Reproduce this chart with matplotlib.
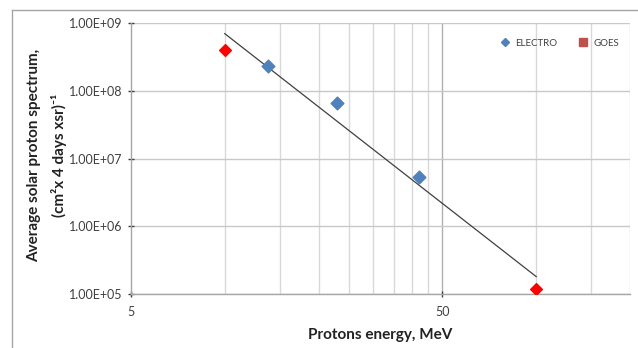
import numpy as np
import matplotlib
matplotlib.use("Agg")
import matplotlib.pyplot as plt
from matplotlib.lines import Line2D
from matplotlib.ticker import FixedLocator, NullFormatter

plt.rcParams['font.family'] = ['Lato', 'DejaVu Sans']

# Data
electro_energy = [13.8, 23.0, 42.0]
electro_flux = [2.3e8, 6.7e7, 5.3e6]
goes_energy = [10.0, 100.0]
goes_flux = [4.0e8, 1.2e5]
x_tick_values = [5, 50]
x_tick_labels = ["5", "50"]
y_tick_values = [1e5, 1e6, 1e7, 1e8, 1e9]
y_tick_labels = ["1.00E+05", "1.00E+06", "1.00E+07", "1.00E+08", "1.00E+09"]
x_minor_grid = [10, 15, 20, 25, 30, 35, 40, 45, 100, 150]
series_names = ["ELECTRO", "GOES"]

fig = plt.figure(figsize=(6.38, 3.48), dpi=100)
ax = fig.add_axes([131/638, 1-294/348, (630-131)/638, (294-23)/348])

ax.set_xscale('log')
ax.set_yscale('log')
ax.set_xlim(5, 200)
ax.set_ylim(1e5, 1e9)

# gridlines
for v in x_minor_grid:
    ax.axvline(v, color='#D9D9D9', lw=1.0, zorder=0)
ax.axvline(200, color='#D9D9D9', lw=1.0, zorder=0)
ax.axvline(50, color='#B0B0B0', lw=1.0, zorder=0)
for v in y_tick_values:
    ax.axhline(v, color='#C8C8C8', lw=1.0, zorder=0)

# power-law trendline fit on all points
all_x = np.array(goes_energy[:1] + electro_energy + goes_energy[1:])
all_y = np.array(goes_flux[:1] + electro_flux + goes_flux[1:])
coef = np.polyfit(np.log10(all_x), np.log10(all_y), 1)
tx = np.array([min(all_x), max(all_x)])
ty = 10 ** np.polyval(coef, np.log10(tx))
ax.plot(tx, ty, color='#404040', lw=0.9, zorder=2)

ax.scatter(electro_energy, electro_flux, marker='D', s=42, color='#4F81BD', zorder=3)
ax.scatter(goes_energy, goes_flux, marker='D', s=36, color='#FF0000', zorder=3)

ax.xaxis.set_major_locator(FixedLocator(x_tick_values))
ax.set_xticklabels(x_tick_labels)
ax.xaxis.set_minor_formatter(NullFormatter())
ax.xaxis.set_minor_locator(FixedLocator([]))
ax.yaxis.set_major_locator(FixedLocator(y_tick_values))
ax.set_yticklabels(y_tick_labels)
ax.yaxis.set_minor_locator(FixedLocator([]))

ax.tick_params(axis='both', which='major', labelsize=9, colors='#404040',
               length=5, width=1, direction='inout')
ax.tick_params(axis='x', pad=6)
ax.tick_params(axis='y', pad=4)
for t in ax.get_xticklines() + ax.get_yticklines():
    t.set_color('#868686')

for s in ['top', 'right']:
    ax.spines[s].set_visible(False)
for s in ['left', 'bottom']:
    ax.spines[s].set_color('#A6A6A6')
    ax.spines[s].set_linewidth(1.0)

ax.set_xlabel("Protons energy, MeV", fontsize=11, fontweight='bold', color='#222222', labelpad=7)
ax.set_ylabel("Average solar proton spectrum,\n(cm²x 4 days xsr)⁻¹", fontsize=11,
              fontweight='bold', color='#222222', linespacing=1.75)
ax.yaxis.set_label_coords(-0.128, 0.51)

handles = [Line2D([], [], marker='D', color='#4F81BD', ls='none', markersize=4.5),
           Line2D([], [], marker='s', color='#C0504D', ls='none', markersize=6)]
leg = ax.legend(handles, series_names, loc='upper right', ncol=2, frameon=False,
                fontsize=7, bbox_to_anchor=(0.995, 0.975), handletextpad=0.5,
                columnspacing=2.2, handlelength=1.0)
for t in leg.get_texts():
    t.set_color('#404040')

# chart area border
fig.add_artist(Line2D([12/638, 12/638], [0, 1-10/348], transform=fig.transFigure, color='#A6A6A6', lw=1))
fig.add_artist(Line2D([12/638, 1], [1-10/348, 1-10/348], transform=fig.transFigure, color='#A6A6A6', lw=1))

fig.savefig("out.png", dpi=100)
